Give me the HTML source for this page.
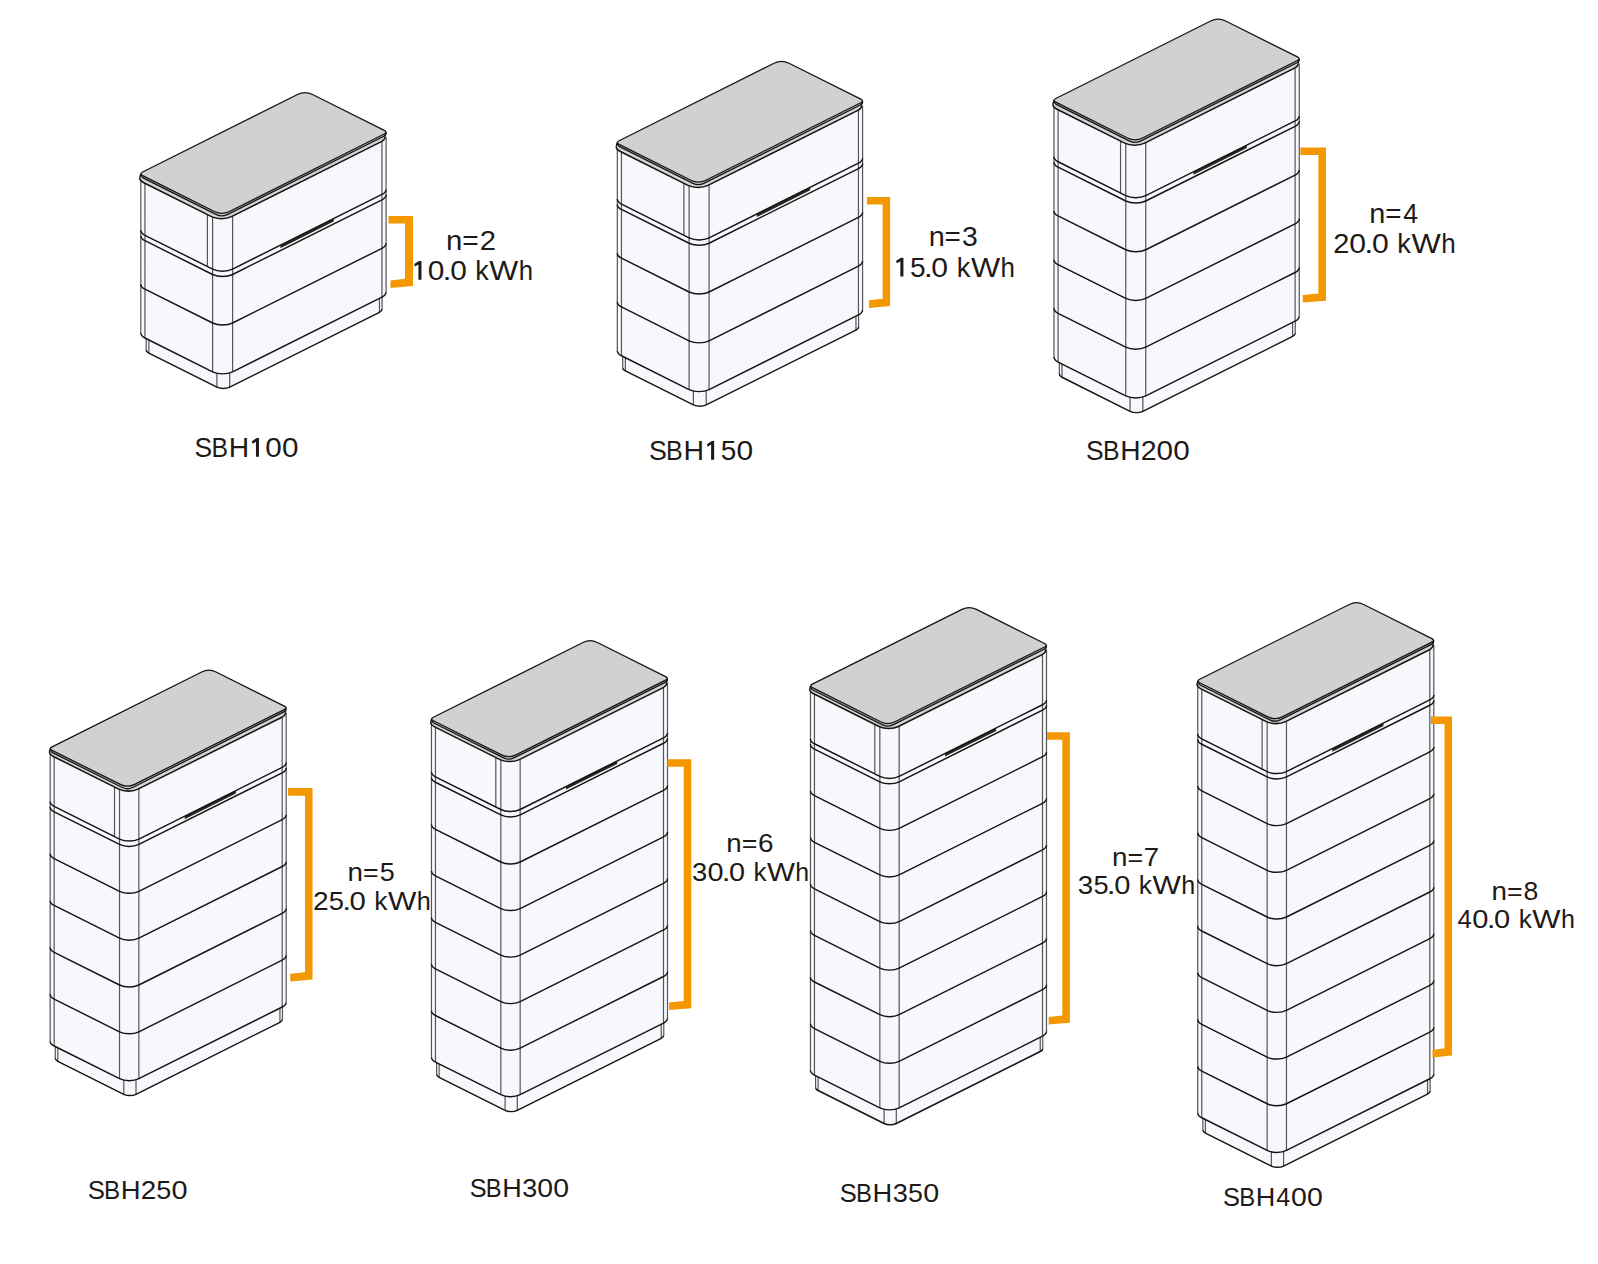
<!DOCTYPE html>
<html><head><meta charset="utf-8"><title>SBH battery stacks</title>
<style>
html,body{margin:0;padding:0;background:#fff;}
body{width:1598px;height:1264px;overflow:hidden;}
svg{display:block;}
text{font-family:"Liberation Sans",sans-serif;}
</style></head><body>
<svg width="1598" height="1264" viewBox="0 0 1598 1264">
<rect width="1598" height="1264" fill="#fff"/>
<g transform="translate(0.7 0)">
<path d="M145.5 349.98 C145.5 351.18 146.45 352.33 148.15 353.18 L216.2 387.2 C219.73 388.97 225.47 388.97 229 387.2 L378.75 312.33 C380.45 311.48 381.4 310.33 381.4 309.12 L381.4 292.12 C381.4 293.33 380.45 294.48 378.75 295.33 L229 370.2 C225.47 371.97 219.73 371.97 216.2 370.2 L148.15 336.18 C146.45 335.33 145.5 334.18 145.5 332.98 Z" fill="#f7f8fb"/>
<path d="M145.5 349.98V332.98 M381.4 309.12V292.12 M148.15 353.18V336.18 M216.2 387.2V370.2 M229 387.2V370.2 M378.75 312.33V295.33" fill="none" stroke="#55555a" stroke-width="1.2"/>
<path d="M145.5 349.98 C145.5 351.18 146.45 352.33 148.15 353.18 L216.2 387.2 C219.73 388.97 225.47 388.97 229 387.2 L378.75 312.33 C380.45 311.48 381.4 310.33 381.4 309.12" fill="none" stroke="#141414" stroke-width="1.45"/>
</g>
<path d="M140.81 332.98 C140.81 334.85 142.3 336.65 144.95 337.98 L212.6 371.8 C218.12 374.56 227.08 374.56 232.6 371.8 L381.95 297.12 C384.6 295.8 386.09 294 386.09 292.12 L386.09 136.93 C386.09 138.8 384.6 140.6 381.95 141.93 L232.6 216.6 C227.08 219.36 218.12 219.36 212.6 216.6 L144.95 182.78 C142.3 181.45 140.81 179.65 140.81 177.78 Z" fill="#f7f8fb"/>
<path d="M140.81 332.98V177.78 M386.09 292.12V136.93 M144.95 337.98V182.78 M212.6 371.8V216.6 M232.6 371.8V216.6 M381.95 297.12V141.93 M207.4 266.5V214" fill="none" stroke="#55555a" stroke-width="1.2"/>
<path d="M280.35 248.23 L333.69 221.55 L333.69 218.55 L280.35 245.23 Z" fill="#2a2624"/>
<path d="M140.81 332.98 C140.81 334.85 142.3 336.65 144.95 337.98 L212.6 371.8 C218.12 374.56 227.08 374.56 232.6 371.8 L381.95 297.12 C384.6 295.8 386.09 294 386.09 292.12 M140.81 284.18 C140.81 286.05 142.3 287.85 144.95 289.18 L212.6 323 C218.12 325.76 227.08 325.76 232.6 323 L381.95 248.32 C384.6 247 386.09 245.2 386.09 243.32 M140.81 235.68 C140.81 237.55 142.3 239.35 144.95 240.68 L212.6 274.5 C218.12 277.26 227.08 277.26 232.6 274.5 L381.95 199.82 C384.6 198.5 386.09 196.7 386.09 194.82 M140.81 230.28 C140.81 232.15 142.3 233.95 144.95 235.28 L212.6 269.1 C218.12 271.86 227.08 271.86 232.6 269.1 L381.95 194.43 C384.6 193.1 386.09 191.3 386.09 189.43" fill="none" stroke="#141414" stroke-width="1.45" stroke-linejoin="round"/>
<g transform="translate(-1.1 0)"><path d="M140.81 177.78 C140.81 179.65 142.3 181.45 144.95 182.78 L212.6 216.6 C218.12 219.36 227.08 219.36 232.6 216.6 L381.95 141.93 C384.6 140.6 386.09 138.8 386.09 136.93 L386.09 132.57 C386.09 134.45 384.6 136.25 381.95 137.57 L232.6 212.25 C227.08 215.01 218.12 215.01 212.6 212.25 L144.95 178.43 C142.3 177.1 140.81 175.3 140.81 173.43 Z" fill="#d9d3d2"/></g>
<g transform="translate(-1.1 0)"><path d="M140.81 177.78 C140.81 179.65 142.3 181.45 144.95 182.78 L212.6 216.6 C218.12 219.36 227.08 219.36 232.6 216.6 L381.95 141.93 C384.6 140.6 386.09 138.8 386.09 136.93" fill="none" stroke="#141414" stroke-width="1.55"/></g>
<path d="M140.83 173.79 L139.71 177.78 M386.07 132.21 L384.99 136.93" fill="none" stroke="#141414" stroke-width="1.3"/>
<path d="M142.63 176.59 L215.5 213.02 Q221.88 216.21 228.25 213.02 L384.27 135.01" fill="none" stroke="#c6c4c4" stroke-width="2.0"/>
<path d="M140.65 174.44 Q140.83 175.84 142.63 177.64 L216.48 214.56 Q221.88 217.26 227.28 214.56 L384.27 136.06 Q386.07 134.26 386.25 132.86" fill="none" stroke="#141414" stroke-width="1.3"/>
<path d="M214.38 211.46 Q221.88 215.21 229.38 211.46 L384.27 134.01 Q387.87 132.21 384.27 130.41 L312.52 94.54 Q305.02 90.79 297.52 94.54 L142.63 171.99 Q139.03 173.79 142.63 175.59 Z" fill="#d1d1d1" stroke="#141414" stroke-width="1.3" stroke-linejoin="round"/>
<g transform="translate(0.7 0)">
<path d="M622 367.73 C622 368.93 622.95 370.08 624.65 370.93 L692.7 404.95 C696.23 406.72 701.97 406.72 705.5 404.95 L855.25 330.08 C856.95 329.23 857.9 328.08 857.9 326.88 L857.9 309.88 C857.9 311.08 856.95 312.23 855.25 313.08 L705.5 387.95 C701.97 389.72 696.23 389.72 692.7 387.95 L624.65 353.93 C622.95 353.08 622 351.93 622 350.73 Z" fill="#f7f8fb"/>
<path d="M622 367.73V350.73 M857.9 326.88V309.88 M624.65 370.93V353.93 M692.7 404.95V387.95 M705.5 404.95V387.95 M855.25 330.08V313.08" fill="none" stroke="#55555a" stroke-width="1.2"/>
<path d="M622 367.73 C622 368.93 622.95 370.08 624.65 370.93 L692.7 404.95 C696.23 406.72 701.97 406.72 705.5 404.95 L855.25 330.08 C856.95 329.23 857.9 328.08 857.9 326.88" fill="none" stroke="#141414" stroke-width="1.45"/>
</g>
<path d="M617.31 350.73 C617.31 352.6 618.8 354.4 621.45 355.73 L689.1 389.55 C694.62 392.31 703.58 392.31 709.1 389.55 L858.45 314.88 C861.1 313.55 862.59 311.75 862.59 309.88 L862.59 105.67 C862.59 107.55 861.1 109.35 858.45 110.67 L709.1 185.35 C703.58 188.11 694.62 188.11 689.1 185.35 L621.45 151.53 C618.8 150.2 617.31 148.4 617.31 146.53 Z" fill="#f7f8fb"/>
<path d="M617.31 350.73V146.53 M862.59 309.88V105.67 M621.45 355.73V151.53 M689.1 389.55V185.35 M709.1 389.55V185.35 M858.45 314.88V110.67 M683.9 235.25V182.75" fill="none" stroke="#55555a" stroke-width="1.2"/>
<path d="M756.85 216.98 L810.19 190.3 L810.19 187.3 L756.85 213.98 Z" fill="#2a2624"/>
<path d="M617.31 350.73 C617.31 352.6 618.8 354.4 621.45 355.73 L689.1 389.55 C694.62 392.31 703.58 392.31 709.1 389.55 L858.45 314.88 C861.1 313.55 862.59 311.75 862.59 309.88 M617.31 301.96 C617.31 303.83 618.8 305.63 621.45 306.96 L689.1 340.78 C694.62 343.54 703.58 343.54 709.1 340.78 L858.45 266.11 C861.1 264.78 862.59 262.98 862.59 261.11 M617.31 253.19 C617.31 255.06 618.8 256.86 621.45 258.19 L689.1 292.01 C694.62 294.77 703.58 294.77 709.1 292.01 L858.45 217.33 C861.1 216.01 862.59 214.21 862.59 212.33 M617.31 204.43 C617.31 206.3 618.8 208.1 621.45 209.43 L689.1 243.25 C694.62 246.01 703.58 246.01 709.1 243.25 L858.45 168.57 C861.1 167.25 862.59 165.45 862.59 163.57 M617.31 199.03 C617.31 200.9 618.8 202.7 621.45 204.03 L689.1 237.85 C694.62 240.61 703.58 240.61 709.1 237.85 L858.45 163.17 C861.1 161.85 862.59 160.05 862.59 158.17" fill="none" stroke="#141414" stroke-width="1.45" stroke-linejoin="round"/>
<g transform="translate(-1.1 0)"><path d="M617.31 146.53 C617.31 148.4 618.8 150.2 621.45 151.53 L689.1 185.35 C694.62 188.11 703.58 188.11 709.1 185.35 L858.45 110.67 C861.1 109.35 862.59 107.55 862.59 105.67 L862.59 101.32 C862.59 103.2 861.1 105 858.45 106.32 L709.1 181 C703.58 183.76 694.62 183.76 689.1 181 L621.45 147.18 C618.8 145.85 617.31 144.05 617.31 142.18 Z" fill="#d9d3d2"/></g>
<g transform="translate(-1.1 0)"><path d="M617.31 146.53 C617.31 148.4 618.8 150.2 621.45 151.53 L689.1 185.35 C694.62 188.11 703.58 188.11 709.1 185.35 L858.45 110.67 C861.1 109.35 862.59 107.55 862.59 105.67" fill="none" stroke="#141414" stroke-width="1.55"/></g>
<path d="M617.33 142.54 L616.21 146.53 M862.57 100.96 L861.49 105.67" fill="none" stroke="#141414" stroke-width="1.3"/>
<path d="M619.13 145.34 L692 181.77 Q698.38 184.96 704.75 181.77 L860.77 103.76" fill="none" stroke="#c6c4c4" stroke-width="2.0"/>
<path d="M617.15 143.19 Q617.33 144.59 619.13 146.39 L692.98 183.31 Q698.38 186.01 703.78 183.31 L860.77 104.81 Q862.57 103.01 862.75 101.61" fill="none" stroke="#141414" stroke-width="1.3"/>
<path d="M690.88 180.21 Q698.38 183.96 705.88 180.21 L860.77 102.76 Q864.37 100.96 860.77 99.16 L789.02 63.29 Q781.52 59.54 774.02 63.29 L619.13 140.74 Q615.53 142.54 619.13 144.34 Z" fill="#d1d1d1" stroke="#141414" stroke-width="1.3" stroke-linejoin="round"/>
<g transform="translate(0.7 0)">
<path d="M1058.65 374.07 C1058.65 375.28 1059.6 376.43 1061.3 377.27 L1129.35 411.3 C1132.88 413.07 1138.62 413.07 1142.15 411.3 L1291.9 336.42 C1293.6 335.58 1294.55 334.43 1294.55 333.23 L1294.55 316.23 C1294.55 317.43 1293.6 318.58 1291.9 319.42 L1142.15 394.3 C1138.62 396.07 1132.88 396.07 1129.35 394.3 L1061.3 360.27 C1059.6 359.43 1058.65 358.28 1058.65 357.07 Z" fill="#f7f8fb"/>
<path d="M1058.65 374.07V357.07 M1294.55 333.23V316.23 M1061.3 377.27V360.27 M1129.35 411.3V394.3 M1142.15 411.3V394.3 M1291.9 336.42V319.42" fill="none" stroke="#55555a" stroke-width="1.2"/>
<path d="M1058.65 374.07 C1058.65 375.28 1059.6 376.43 1061.3 377.27 L1129.35 411.3 C1132.88 413.07 1138.62 413.07 1142.15 411.3 L1291.9 336.42 C1293.6 335.58 1294.55 334.43 1294.55 333.23" fill="none" stroke="#141414" stroke-width="1.45"/>
</g>
<path d="M1053.96 357.07 C1053.96 358.95 1055.45 360.75 1058.1 362.07 L1125.75 395.9 C1131.27 398.66 1140.23 398.66 1145.75 395.9 L1295.1 321.22 C1297.75 319.9 1299.24 318.1 1299.24 316.22 L1299.24 63.42 C1299.24 65.3 1297.75 67.1 1295.1 68.42 L1145.75 143.1 C1140.23 145.86 1131.27 145.86 1125.75 143.1 L1058.1 109.27 C1055.45 107.95 1053.96 106.15 1053.96 104.27 Z" fill="#f7f8fb"/>
<path d="M1053.96 357.07V104.27 M1299.24 316.22V63.42 M1058.1 362.07V109.27 M1125.75 395.9V143.1 M1145.75 395.9V143.1 M1295.1 321.22V68.42 M1120.55 193V140.5" fill="none" stroke="#55555a" stroke-width="1.2"/>
<path d="M1193.5 174.73 L1246.84 148.05 L1246.84 145.05 L1193.5 171.73 Z" fill="#2a2624"/>
<path d="M1053.96 357.07 C1053.96 358.95 1055.45 360.75 1058.1 362.07 L1125.75 395.9 C1131.27 398.66 1140.23 398.66 1145.75 395.9 L1295.1 321.22 C1297.75 319.9 1299.24 318.1 1299.24 316.22 M1053.96 308.36 C1053.96 310.23 1055.45 312.03 1058.1 313.36 L1125.75 347.18 C1131.27 349.94 1140.23 349.94 1145.75 347.18 L1295.1 272.5 C1297.75 271.18 1299.24 269.38 1299.24 267.5 M1053.96 259.63 C1053.96 261.51 1055.45 263.31 1058.1 264.63 L1125.75 298.46 C1131.27 301.22 1140.23 301.22 1145.75 298.46 L1295.1 223.78 C1297.75 222.46 1299.24 220.66 1299.24 218.78 M1053.96 210.91 C1053.96 212.79 1055.45 214.59 1058.1 215.91 L1125.75 249.74 C1131.27 252.5 1140.23 252.5 1145.75 249.74 L1295.1 175.06 C1297.75 173.74 1299.24 171.94 1299.24 170.06 M1053.96 162.17 C1053.96 164.05 1055.45 165.85 1058.1 167.17 L1125.75 201 C1131.27 203.76 1140.23 203.76 1145.75 201 L1295.1 126.32 C1297.75 125 1299.24 123.2 1299.24 121.32 M1053.96 156.77 C1053.96 158.65 1055.45 160.45 1058.1 161.77 L1125.75 195.6 C1131.27 198.36 1140.23 198.36 1145.75 195.6 L1295.1 120.92 C1297.75 119.6 1299.24 117.8 1299.24 115.92" fill="none" stroke="#141414" stroke-width="1.45" stroke-linejoin="round"/>
<g transform="translate(-1.1 0)"><path d="M1053.96 104.27 C1053.96 106.15 1055.45 107.95 1058.1 109.27 L1125.75 143.1 C1131.27 145.86 1140.23 145.86 1145.75 143.1 L1295.1 68.42 C1297.75 67.1 1299.24 65.3 1299.24 63.42 L1299.24 59.07 C1299.24 60.95 1297.75 62.75 1295.1 64.07 L1145.75 138.75 C1140.23 141.51 1131.27 141.51 1125.75 138.75 L1058.1 104.93 C1055.45 103.6 1053.96 101.8 1053.96 99.93 Z" fill="#d9d3d2"/></g>
<g transform="translate(-1.1 0)"><path d="M1053.96 104.27 C1053.96 106.15 1055.45 107.95 1058.1 109.27 L1125.75 143.1 C1131.27 145.86 1140.23 145.86 1145.75 143.1 L1295.1 68.42 C1297.75 67.1 1299.24 65.3 1299.24 63.42" fill="none" stroke="#141414" stroke-width="1.55"/></g>
<path d="M1053.98 100.28 L1052.86 104.27 M1299.22 58.72 L1298.14 63.42" fill="none" stroke="#141414" stroke-width="1.3"/>
<path d="M1055.78 103.08 L1128.65 139.52 Q1135.03 142.71 1141.4 139.52 L1297.42 61.52" fill="none" stroke="#c6c4c4" stroke-width="2.0"/>
<path d="M1053.8 100.93 Q1053.98 102.33 1055.78 104.13 L1129.63 141.06 Q1135.03 143.76 1140.43 141.06 L1297.42 62.57 Q1299.22 60.77 1299.4 59.37" fill="none" stroke="#141414" stroke-width="1.3"/>
<path d="M1127.53 137.96 Q1135.03 141.71 1142.53 137.96 L1297.42 60.52 Q1301.02 58.72 1297.42 56.92 L1225.67 21.04 Q1218.17 17.29 1210.67 21.04 L1055.78 98.48 Q1052.18 100.28 1055.78 102.08 Z" fill="#d1d1d1" stroke="#141414" stroke-width="1.3" stroke-linejoin="round"/>
<g transform="translate(0.7 0)">
<path d="M54.59 1058.25 C54.59 1059.39 55.5 1060.49 57.12 1061.3 L123.1 1094.29 C126.47 1095.97 131.93 1095.97 135.3 1094.29 L279.24 1022.32 C280.86 1021.51 281.77 1020.41 281.77 1019.27 L281.77 1002.17 C281.77 1003.31 280.86 1004.41 279.24 1005.22 L135.3 1077.19 C131.93 1078.87 126.47 1078.87 123.1 1077.19 L57.12 1044.2 C55.5 1043.39 54.59 1042.29 54.59 1041.15 Z" fill="#f7f8fb"/>
<path d="M54.59 1058.25V1041.15 M281.77 1019.27V1002.17 M57.12 1061.3V1044.2 M123.1 1094.29V1077.19 M135.3 1094.29V1077.19 M279.24 1022.32V1005.22" fill="none" stroke="#55555a" stroke-width="1.2"/>
<path d="M54.59 1058.25 C54.59 1059.39 55.5 1060.49 57.12 1061.3 L123.1 1094.29 C126.47 1095.97 131.93 1095.97 135.3 1094.29 L279.24 1022.32 C280.86 1021.51 281.77 1020.41 281.77 1019.27" fill="none" stroke="#141414" stroke-width="1.45"/>
</g>
<path d="M50.16 1041.15 C50.16 1042.96 51.6 1044.7 54.16 1045.98 L119.54 1078.67 C124.88 1081.34 133.52 1081.34 138.86 1078.67 L282.2 1007 C284.76 1005.72 286.2 1003.98 286.2 1002.17 L286.2 712.64 C286.2 714.45 284.76 716.19 282.2 717.47 L138.86 789.14 C133.52 791.81 124.88 791.81 119.54 789.14 L54.16 756.45 C51.6 755.17 50.16 753.43 50.16 751.62 Z" fill="#f7f8fb"/>
<path d="M50.16 1041.15V751.62 M286.2 1002.17V712.64 M54.16 1045.98V756.45 M119.54 1078.67V789.14 M138.86 1078.67V789.14 M282.2 1007V717.47 M114.5 836.55V786.62" fill="none" stroke="#55555a" stroke-width="1.2"/>
<path d="M184.67 819.17 L235.9 793.55 L235.9 790.55 L184.67 816.17 Z" fill="#2a2624"/>
<path d="M50.16 1041.15 C50.16 1042.96 51.6 1044.7 54.16 1045.98 L119.54 1078.67 C124.88 1081.34 133.52 1081.34 138.86 1078.67 L282.2 1007 C284.76 1005.72 286.2 1003.98 286.2 1002.17 M50.16 994.31 C50.16 996.12 51.6 997.86 54.16 999.14 L119.54 1031.83 C124.88 1034.5 133.52 1034.5 138.86 1031.83 L282.2 960.16 C284.76 958.88 286.2 957.14 286.2 955.33 M50.16 947.47 C50.16 949.28 51.6 951.02 54.16 952.3 L119.54 984.99 C124.88 987.66 133.52 987.66 138.86 984.99 L282.2 913.32 C284.76 912.04 286.2 910.3 286.2 908.49 M50.16 900.63 C50.16 902.44 51.6 904.18 54.16 905.46 L119.54 938.15 C124.88 940.82 133.52 940.82 138.86 938.15 L282.2 866.48 C284.76 865.2 286.2 863.46 286.2 861.65 M50.16 853.79 C50.16 855.6 51.6 857.34 54.16 858.62 L119.54 891.31 C124.88 893.98 133.52 893.98 138.86 891.31 L282.2 819.64 C284.76 818.36 286.2 816.62 286.2 814.81 M50.16 806.95 C50.16 808.76 51.6 810.5 54.16 811.78 L119.54 844.47 C124.88 847.14 133.52 847.14 138.86 844.47 L282.2 772.8 C284.76 771.52 286.2 769.78 286.2 767.97 M50.16 801.55 C50.16 803.36 51.6 805.1 54.16 806.38 L119.54 839.07 C124.88 841.74 133.52 841.74 138.86 839.07 L282.2 767.4 C284.76 766.12 286.2 764.38 286.2 762.57" fill="none" stroke="#141414" stroke-width="1.45" stroke-linejoin="round"/>
<g transform="translate(-0.8 0)"><path d="M50.16 751.62 C50.16 753.43 51.6 755.17 54.16 756.45 L119.54 789.14 C124.88 791.81 133.52 791.81 138.86 789.14 L282.2 717.47 C284.76 716.19 286.2 714.45 286.2 712.64 L286.2 708.72 C286.2 710.53 284.76 712.27 282.2 713.55 L138.86 785.22 C133.52 787.89 124.88 787.89 119.54 785.22 L54.16 752.53 C51.6 751.25 50.16 749.51 50.16 747.7 Z" fill="#d9d3d2"/></g>
<g transform="translate(-0.8 0)"><path d="M50.16 751.62 C50.16 753.43 51.6 755.17 54.16 756.45 L119.54 789.14 C124.88 791.81 133.52 791.81 138.86 789.14 L282.2 717.47 C284.76 716.19 286.2 714.45 286.2 712.64" fill="none" stroke="#141414" stroke-width="1.55"/></g>
<path d="M50.33 748.56 L49.36 751.62 M286.03 707.86 L285.4 712.64" fill="none" stroke="#141414" stroke-width="1.3"/>
<path d="M52.08 751.31 L121.36 785.95 Q127.48 789.01 133.6 785.95 L284.28 710.61" fill="none" stroke="#c6c4c4" stroke-width="2.0"/>
<path d="M50.16 749.21 Q50.33 750.61 52.08 752.36 L122.3 787.47 Q127.48 790.06 132.66 787.47 L284.28 711.66 Q286.03 709.91 286.2 708.51" fill="none" stroke="#141414" stroke-width="1.3"/>
<path d="M120.28 784.41 Q127.48 788.01 134.68 784.41 L284.28 709.61 Q287.78 707.86 284.28 706.11 L216.08 672.01 Q208.88 668.41 201.68 672.01 L52.08 746.81 Q48.58 748.56 52.08 750.31 Z" fill="#d1d1d1" stroke="#141414" stroke-width="1.3" stroke-linejoin="round"/>
<g transform="translate(0.7 0)">
<path d="M435.89 1074.3 C435.89 1075.44 436.8 1076.54 438.42 1077.35 L504.4 1110.34 C507.77 1112.02 513.23 1112.02 516.6 1110.34 L660.54 1038.37 C662.16 1037.56 663.07 1036.46 663.07 1035.32 L663.07 1018.22 C663.07 1019.36 662.16 1020.46 660.54 1021.27 L516.6 1093.24 C513.23 1094.92 507.77 1094.92 504.4 1093.24 L438.42 1060.25 C436.8 1059.44 435.89 1058.34 435.89 1057.2 Z" fill="#f7f8fb"/>
<path d="M435.89 1074.3V1057.2 M663.07 1035.32V1018.22 M438.42 1077.35V1060.25 M504.4 1110.34V1093.24 M516.6 1110.34V1093.24 M660.54 1038.37V1021.27" fill="none" stroke="#55555a" stroke-width="1.2"/>
<path d="M435.89 1074.3 C435.89 1075.44 436.8 1076.54 438.42 1077.35 L504.4 1110.34 C507.77 1112.02 513.23 1112.02 516.6 1110.34 L660.54 1038.37 C662.16 1037.56 663.07 1036.46 663.07 1035.32" fill="none" stroke="#141414" stroke-width="1.45"/>
</g>
<path d="M431.46 1057.2 C431.46 1059.01 432.9 1060.75 435.46 1062.03 L500.84 1094.72 C506.18 1097.39 514.82 1097.39 520.16 1094.72 L663.5 1023.05 C666.06 1021.77 667.5 1020.03 667.5 1018.22 L667.5 683.09 C667.5 684.9 666.06 686.64 663.5 687.92 L520.16 759.59 C514.82 762.26 506.18 762.26 500.84 759.59 L435.46 726.9 C432.9 725.62 431.46 723.88 431.46 722.07 Z" fill="#f7f8fb"/>
<path d="M431.46 1057.2V722.07 M667.5 1018.22V683.09 M435.46 1062.03V726.9 M500.84 1094.72V759.59 M520.16 1094.72V759.59 M663.5 1023.05V687.92 M495.8 807V757.07" fill="none" stroke="#55555a" stroke-width="1.2"/>
<path d="M565.97 789.62 L617.2 764 L617.2 761 L565.97 786.62 Z" fill="#2a2624"/>
<path d="M431.46 1057.2 C431.46 1059.01 432.9 1060.75 435.46 1062.03 L500.84 1094.72 C506.18 1097.39 514.82 1097.39 520.16 1094.72 L663.5 1023.05 C666.06 1021.77 667.5 1020.03 667.5 1018.22 M431.46 1010.66 C431.46 1012.47 432.9 1014.21 435.46 1015.49 L500.84 1048.18 C506.18 1050.85 514.82 1050.85 520.16 1048.18 L663.5 976.51 C666.06 975.23 667.5 973.49 667.5 971.68 M431.46 964.12 C431.46 965.93 432.9 967.67 435.46 968.95 L500.84 1001.64 C506.18 1004.31 514.82 1004.31 520.16 1001.64 L663.5 929.97 C666.06 928.69 667.5 926.95 667.5 925.14 M431.46 917.58 C431.46 919.39 432.9 921.13 435.46 922.41 L500.84 955.1 C506.18 957.77 514.82 957.77 520.16 955.1 L663.5 883.43 C666.06 882.15 667.5 880.41 667.5 878.6 M431.46 871.04 C431.46 872.85 432.9 874.59 435.46 875.87 L500.84 908.56 C506.18 911.23 514.82 911.23 520.16 908.56 L663.5 836.89 C666.06 835.61 667.5 833.87 667.5 832.06 M431.46 824.5 C431.46 826.31 432.9 828.05 435.46 829.33 L500.84 862.02 C506.18 864.69 514.82 864.69 520.16 862.02 L663.5 790.35 C666.06 789.07 667.5 787.33 667.5 785.52 M431.46 777.4 C431.46 779.21 432.9 780.95 435.46 782.23 L500.84 814.92 C506.18 817.59 514.82 817.59 520.16 814.92 L663.5 743.25 C666.06 741.97 667.5 740.23 667.5 738.42 M431.46 772 C431.46 773.81 432.9 775.55 435.46 776.83 L500.84 809.52 C506.18 812.19 514.82 812.19 520.16 809.52 L663.5 737.85 C666.06 736.57 667.5 734.83 667.5 733.02" fill="none" stroke="#141414" stroke-width="1.45" stroke-linejoin="round"/>
<g transform="translate(-0.8 0)"><path d="M431.46 722.07 C431.46 723.88 432.9 725.62 435.46 726.9 L500.84 759.59 C506.18 762.26 514.82 762.26 520.16 759.59 L663.5 687.92 C666.06 686.64 667.5 684.9 667.5 683.09 L667.5 679.17 C667.5 680.98 666.06 682.72 663.5 684 L520.16 755.67 C514.82 758.34 506.18 758.34 500.84 755.67 L435.46 722.98 C432.9 721.7 431.46 719.96 431.46 718.15 Z" fill="#d9d3d2"/></g>
<g transform="translate(-0.8 0)"><path d="M431.46 722.07 C431.46 723.88 432.9 725.62 435.46 726.9 L500.84 759.59 C506.18 762.26 514.82 762.26 520.16 759.59 L663.5 687.92 C666.06 686.64 667.5 684.9 667.5 683.09" fill="none" stroke="#141414" stroke-width="1.55"/></g>
<path d="M431.63 719.01 L430.66 722.07 M667.33 678.31 L666.7 683.09" fill="none" stroke="#141414" stroke-width="1.3"/>
<path d="M433.38 721.76 L502.66 756.4 Q508.78 759.46 514.9 756.4 L665.58 681.06" fill="none" stroke="#c6c4c4" stroke-width="2.0"/>
<path d="M431.45 719.66 Q431.63 721.06 433.38 722.81 L503.6 757.92 Q508.78 760.51 513.96 757.92 L665.58 682.11 Q667.33 680.36 667.5 678.96" fill="none" stroke="#141414" stroke-width="1.3"/>
<path d="M501.58 754.86 Q508.78 758.46 515.98 754.86 L665.58 680.06 Q669.08 678.31 665.58 676.56 L597.38 642.46 Q590.18 638.86 582.98 642.46 L433.38 717.26 Q429.88 719.01 433.38 720.76 Z" fill="#d1d1d1" stroke="#141414" stroke-width="1.3" stroke-linejoin="round"/>
<g transform="translate(0.7 0)">
<path d="M814.89 1087.45 C814.89 1088.59 815.8 1089.69 817.42 1090.5 L883.4 1123.49 C886.77 1125.17 892.23 1125.17 895.6 1123.49 L1039.54 1051.52 C1041.16 1050.71 1042.07 1049.61 1042.07 1048.47 L1042.07 1031.37 C1042.07 1032.51 1041.16 1033.61 1039.54 1034.42 L895.6 1106.39 C892.23 1108.07 886.77 1108.07 883.4 1106.39 L817.42 1073.4 C815.8 1072.59 814.89 1071.49 814.89 1070.35 Z" fill="#f7f8fb"/>
<path d="M814.89 1087.45V1070.35 M1042.07 1048.47V1031.37 M817.42 1090.5V1073.4 M883.4 1123.49V1106.39 M895.6 1123.49V1106.39 M1039.54 1051.52V1034.42" fill="none" stroke="#55555a" stroke-width="1.2"/>
<path d="M814.89 1087.45 C814.89 1088.59 815.8 1089.69 817.42 1090.5 L883.4 1123.49 C886.77 1125.17 892.23 1125.17 895.6 1123.49 L1039.54 1051.52 C1041.16 1050.71 1042.07 1049.61 1042.07 1048.47" fill="none" stroke="#141414" stroke-width="1.45"/>
</g>
<path d="M810.46 1070.35 C810.46 1072.16 811.9 1073.9 814.46 1075.18 L879.84 1107.87 C885.18 1110.54 893.82 1110.54 899.16 1107.87 L1042.5 1036.2 C1045.06 1034.92 1046.5 1033.18 1046.5 1031.37 L1046.5 649.99 C1046.5 651.8 1045.06 653.54 1042.5 654.82 L899.16 726.49 C893.82 729.16 885.18 729.16 879.84 726.49 L814.46 693.8 C811.9 692.52 810.46 690.78 810.46 688.97 Z" fill="#f7f8fb"/>
<path d="M810.46 1070.35V688.97 M1046.5 1031.37V649.99 M814.46 1075.18V693.8 M879.84 1107.87V726.49 M899.16 1107.87V726.49 M1042.5 1036.2V654.82 M874.8 773.9V723.97" fill="none" stroke="#55555a" stroke-width="1.2"/>
<path d="M944.97 756.52 L996.2 730.9 L996.2 727.9 L944.97 753.52 Z" fill="#2a2624"/>
<path d="M810.46 1070.35 C810.46 1072.16 811.9 1073.9 814.46 1075.18 L879.84 1107.87 C885.18 1110.54 893.82 1110.54 899.16 1107.87 L1042.5 1036.2 C1045.06 1034.92 1046.5 1033.18 1046.5 1031.37 M810.46 1023.77 C810.46 1025.58 811.9 1027.32 814.46 1028.6 L879.84 1061.29 C885.18 1063.96 893.82 1063.96 899.16 1061.29 L1042.5 989.62 C1045.06 988.34 1046.5 986.6 1046.5 984.79 M810.46 977.19 C810.46 979 811.9 980.74 814.46 982.02 L879.84 1014.71 C885.18 1017.38 893.82 1017.38 899.16 1014.71 L1042.5 943.04 C1045.06 941.76 1046.5 940.02 1046.5 938.21 M810.46 930.61 C810.46 932.42 811.9 934.16 814.46 935.44 L879.84 968.13 C885.18 970.8 893.82 970.8 899.16 968.13 L1042.5 896.46 C1045.06 895.18 1046.5 893.44 1046.5 891.63 M810.46 884.03 C810.46 885.84 811.9 887.58 814.46 888.86 L879.84 921.55 C885.18 924.22 893.82 924.22 899.16 921.55 L1042.5 849.88 C1045.06 848.6 1046.5 846.86 1046.5 845.05 M810.46 837.45 C810.46 839.26 811.9 841 814.46 842.28 L879.84 874.97 C885.18 877.64 893.82 877.64 899.16 874.97 L1042.5 803.3 C1045.06 802.02 1046.5 800.28 1046.5 798.47 M810.46 790.87 C810.46 792.68 811.9 794.42 814.46 795.7 L879.84 828.39 C885.18 831.06 893.82 831.06 899.16 828.39 L1042.5 756.72 C1045.06 755.44 1046.5 753.7 1046.5 751.89 M810.46 744.3 C810.46 746.11 811.9 747.85 814.46 749.13 L879.84 781.82 C885.18 784.49 893.82 784.49 899.16 781.82 L1042.5 710.15 C1045.06 708.87 1046.5 707.13 1046.5 705.32 M810.46 738.9 C810.46 740.71 811.9 742.45 814.46 743.73 L879.84 776.42 C885.18 779.09 893.82 779.09 899.16 776.42 L1042.5 704.75 C1045.06 703.47 1046.5 701.73 1046.5 699.92" fill="none" stroke="#141414" stroke-width="1.45" stroke-linejoin="round"/>
<g transform="translate(-0.8 0)"><path d="M810.46 688.97 C810.46 690.78 811.9 692.52 814.46 693.8 L879.84 726.49 C885.18 729.16 893.82 729.16 899.16 726.49 L1042.5 654.82 C1045.06 653.54 1046.5 651.8 1046.5 649.99 L1046.5 646.07 C1046.5 647.88 1045.06 649.62 1042.5 650.9 L899.16 722.57 C893.82 725.24 885.18 725.24 879.84 722.57 L814.46 689.88 C811.9 688.6 810.46 686.86 810.46 685.05 Z" fill="#d9d3d2"/></g>
<g transform="translate(-0.8 0)"><path d="M810.46 688.97 C810.46 690.78 811.9 692.52 814.46 693.8 L879.84 726.49 C885.18 729.16 893.82 729.16 899.16 726.49 L1042.5 654.82 C1045.06 653.54 1046.5 651.8 1046.5 649.99" fill="none" stroke="#141414" stroke-width="1.55"/></g>
<path d="M810.63 685.91 L809.66 688.97 M1046.33 645.21 L1045.7 649.99" fill="none" stroke="#141414" stroke-width="1.3"/>
<path d="M812.38 688.66 L881.66 723.3 Q887.78 726.36 893.9 723.3 L1044.58 647.96" fill="none" stroke="#c6c4c4" stroke-width="2.0"/>
<path d="M810.46 686.56 Q810.63 687.96 812.38 689.71 L882.6 724.82 Q887.78 727.41 892.96 724.82 L1044.58 649.01 Q1046.33 647.26 1046.5 645.86" fill="none" stroke="#141414" stroke-width="1.3"/>
<path d="M880.58 721.76 Q887.78 725.36 894.98 721.76 L1044.58 646.96 Q1048.08 645.21 1044.58 643.46 L976.38 609.36 Q969.18 605.76 961.98 609.36 L812.38 684.16 Q808.88 685.91 812.38 687.66 Z" fill="#d1d1d1" stroke="#141414" stroke-width="1.3" stroke-linejoin="round"/>
<g transform="translate(0.7 0)">
<path d="M1202.19 1130.02 C1202.19 1131.16 1203.1 1132.26 1204.72 1133.07 L1270.7 1166.06 C1274.07 1167.74 1279.53 1167.74 1282.9 1166.06 L1426.84 1094.09 C1428.46 1093.28 1429.37 1092.18 1429.37 1091.04 L1429.37 1073.94 C1429.37 1075.08 1428.46 1076.18 1426.84 1076.99 L1282.9 1148.96 C1279.53 1150.64 1274.07 1150.64 1270.7 1148.96 L1204.72 1115.97 C1203.1 1115.16 1202.19 1114.06 1202.19 1112.92 Z" fill="#f7f8fb"/>
<path d="M1202.19 1130.02V1112.92 M1429.37 1091.04V1073.94 M1204.72 1133.07V1115.97 M1270.7 1166.06V1148.96 M1282.9 1166.06V1148.96 M1426.84 1094.09V1076.99" fill="none" stroke="#55555a" stroke-width="1.2"/>
<path d="M1202.19 1130.02 C1202.19 1131.16 1203.1 1132.26 1204.72 1133.07 L1270.7 1166.06 C1274.07 1167.74 1279.53 1167.74 1282.9 1166.06 L1426.84 1094.09 C1428.46 1093.28 1429.37 1092.18 1429.37 1091.04" fill="none" stroke="#141414" stroke-width="1.45"/>
</g>
<path d="M1197.76 1112.92 C1197.76 1114.73 1199.2 1116.47 1201.76 1117.75 L1267.14 1150.44 C1272.48 1153.11 1281.12 1153.11 1286.46 1150.44 L1429.8 1078.77 C1432.36 1077.49 1433.8 1075.75 1433.8 1073.94 L1433.8 645.11 C1433.8 646.92 1432.36 648.66 1429.8 649.94 L1286.46 721.61 C1281.12 724.28 1272.48 724.28 1267.14 721.61 L1201.76 688.92 C1199.2 687.64 1197.76 685.9 1197.76 684.09 Z" fill="#f7f8fb"/>
<path d="M1197.76 1112.92V684.09 M1433.8 1073.94V645.11 M1201.76 1117.75V688.92 M1267.14 1150.44V721.61 M1286.46 1150.44V721.61 M1429.8 1078.77V649.94 M1262.1 769.02V719.09" fill="none" stroke="#55555a" stroke-width="1.2"/>
<path d="M1332.27 751.64 L1383.5 726.02 L1383.5 723.02 L1332.27 748.64 Z" fill="#2a2624"/>
<path d="M1197.76 1112.92 C1197.76 1114.73 1199.2 1116.47 1201.76 1117.75 L1267.14 1150.44 C1272.48 1153.11 1281.12 1153.11 1286.46 1150.44 L1429.8 1078.77 C1432.36 1077.49 1433.8 1075.75 1433.8 1073.94 M1197.76 1066.23 C1197.76 1068.04 1199.2 1069.78 1201.76 1071.06 L1267.14 1103.75 C1272.48 1106.42 1281.12 1106.42 1286.46 1103.75 L1429.8 1032.08 C1432.36 1030.8 1433.8 1029.06 1433.8 1027.25 M1197.76 1019.54 C1197.76 1021.35 1199.2 1023.09 1201.76 1024.37 L1267.14 1057.06 C1272.48 1059.73 1281.12 1059.73 1286.46 1057.06 L1429.8 985.39 C1432.36 984.11 1433.8 982.37 1433.8 980.56 M1197.76 972.85 C1197.76 974.66 1199.2 976.4 1201.76 977.68 L1267.14 1010.37 C1272.48 1013.04 1281.12 1013.04 1286.46 1010.37 L1429.8 938.7 C1432.36 937.42 1433.8 935.68 1433.8 933.87 M1197.76 926.16 C1197.76 927.97 1199.2 929.71 1201.76 930.99 L1267.14 963.68 C1272.48 966.35 1281.12 966.35 1286.46 963.68 L1429.8 892.01 C1432.36 890.73 1433.8 888.99 1433.8 887.18 M1197.76 879.47 C1197.76 881.28 1199.2 883.02 1201.76 884.3 L1267.14 916.99 C1272.48 919.66 1281.12 919.66 1286.46 916.99 L1429.8 845.32 C1432.36 844.04 1433.8 842.3 1433.8 840.49 M1197.76 832.78 C1197.76 834.59 1199.2 836.33 1201.76 837.61 L1267.14 870.3 C1272.48 872.97 1281.12 872.97 1286.46 870.3 L1429.8 798.63 C1432.36 797.35 1433.8 795.61 1433.8 793.8 M1197.76 786.09 C1197.76 787.9 1199.2 789.64 1201.76 790.92 L1267.14 823.61 C1272.48 826.28 1281.12 826.28 1286.46 823.61 L1429.8 751.94 C1432.36 750.66 1433.8 748.92 1433.8 747.11 M1197.76 739.42 C1197.76 741.23 1199.2 742.97 1201.76 744.25 L1267.14 776.94 C1272.48 779.61 1281.12 779.61 1286.46 776.94 L1429.8 705.27 C1432.36 703.99 1433.8 702.25 1433.8 700.44 M1197.76 734.02 C1197.76 735.83 1199.2 737.57 1201.76 738.85 L1267.14 771.54 C1272.48 774.21 1281.12 774.21 1286.46 771.54 L1429.8 699.87 C1432.36 698.59 1433.8 696.85 1433.8 695.04" fill="none" stroke="#141414" stroke-width="1.45" stroke-linejoin="round"/>
<g transform="translate(-0.8 0)"><path d="M1197.76 684.09 C1197.76 685.9 1199.2 687.64 1201.76 688.92 L1267.14 721.61 C1272.48 724.28 1281.12 724.28 1286.46 721.61 L1429.8 649.94 C1432.36 648.66 1433.8 646.92 1433.8 645.11 L1433.8 641.19 C1433.8 643 1432.36 644.74 1429.8 646.02 L1286.46 717.69 C1281.12 720.36 1272.48 720.36 1267.14 717.69 L1201.76 685 C1199.2 683.72 1197.76 681.98 1197.76 680.17 Z" fill="#d9d3d2"/></g>
<g transform="translate(-0.8 0)"><path d="M1197.76 684.09 C1197.76 685.9 1199.2 687.64 1201.76 688.92 L1267.14 721.61 C1272.48 724.28 1281.12 724.28 1286.46 721.61 L1429.8 649.94 C1432.36 648.66 1433.8 646.92 1433.8 645.11" fill="none" stroke="#141414" stroke-width="1.55"/></g>
<path d="M1197.93 681.03 L1196.96 684.09 M1433.63 640.33 L1433 645.11" fill="none" stroke="#141414" stroke-width="1.3"/>
<path d="M1199.68 683.78 L1268.96 718.42 Q1275.08 721.48 1281.2 718.42 L1431.88 643.08" fill="none" stroke="#c6c4c4" stroke-width="2.0"/>
<path d="M1197.76 681.68 Q1197.93 683.08 1199.68 684.83 L1269.9 719.94 Q1275.08 722.53 1280.26 719.94 L1431.88 644.13 Q1433.63 642.38 1433.8 640.98" fill="none" stroke="#141414" stroke-width="1.3"/>
<path d="M1267.88 716.88 Q1275.08 720.48 1282.28 716.88 L1431.88 642.08 Q1435.38 640.33 1431.88 638.58 L1363.68 604.48 Q1356.48 600.88 1349.28 604.48 L1199.68 679.28 Q1196.18 681.03 1199.68 682.78 Z" fill="#d1d1d1" stroke="#141414" stroke-width="1.3" stroke-linejoin="round"/>
<path d="M388.5 216 L413 216 L413 286.1 L390.5 288 L390.5 280.4 L405 278.8 L405 223.6 L388.5 223.6 Z" fill="#f39800"/>
<path d="M866.9 197 L890.1 197 L890.1 306 L869 307.9 L869 300.3 L882.6 298.7 L882.6 204.6 L866.9 204.6 Z" fill="#f39800"/>
<path d="M1300.4 147.5 L1326 147.5 L1326 300.7 L1302.7 302.6 L1302.7 295 L1318.4 293.4 L1318.4 155.1 L1300.4 155.1 Z" fill="#f39800"/>
<path d="M288.1 788.1 L312.5 788.1 L312.5 979.5 L290.3 981.4 L290.3 973.8 L305 972.2 L305 795.7 L288.1 795.7 Z" fill="#f39800"/>
<path d="M667.3 759.2 L691.3 759.2 L691.3 1008.2 L669.1 1010.1 L669.1 1002.5 L683.7 1000.9 L683.7 766.8 L667.3 766.8 Z" fill="#f39800"/>
<path d="M1046.9 732.2 L1069.9 732.2 L1069.9 1022.7 L1048.7 1024.6 L1048.7 1017 L1062.3 1015.4 L1062.3 739.8 L1046.9 739.8 Z" fill="#f39800"/>
<path d="M1431 716.4 L1452 716.4 L1452 1055.6 L1432.5 1057.5 L1432.5 1049.9 L1444.5 1048.3 L1444.5 724 L1431 724 Z" fill="#f39800"/>
<g font-family="Liberation Sans, sans-serif" fill="#1e1a18">
<text transform="translate(194.61 456.85) scale(0.9797 1)" font-size="27">S</text><text transform="translate(211.44 456.85) scale(0.9188 1)" font-size="27">B</text><text transform="translate(228.72 456.85) scale(1.0460 1)" font-size="27">H</text><path d="M255.95 456.85 L258.98 456.85 L258.98 438.05 L256.63 438.05 L252.14 440.95 L251.85 441.65 L252.39 443.4 L253.02 443.45 L255.95 441.65 Z"/><text transform="translate(265.32 456.85) scale(1.0984 1)" font-size="27">0</text><text transform="translate(282.05 456.85) scale(1.0984 1)" font-size="27">0</text>
<text transform="translate(649.1 459.8) scale(0.9903 1)" font-size="27">S</text><text transform="translate(666.11 459.8) scale(0.9288 1)" font-size="27">B</text><text transform="translate(683.58 459.8) scale(1.0573 1)" font-size="27">H</text><path d="M711.1 459.8 L714.16 459.8 L714.16 441 L711.79 441 L707.25 443.9 L706.96 444.6 L707.5 446.35 L708.14 446.4 L711.1 444.6 Z"/><text transform="translate(720.65 459.8) scale(1.0381 1)" font-size="27">5</text><text transform="translate(736.49 459.8) scale(1.1103 1)" font-size="27">0</text>
<text transform="translate(1086.11 460.2) scale(0.9797 1)" font-size="27">S</text><text transform="translate(1102.94 460.2) scale(0.9188 1)" font-size="27">B</text><text transform="translate(1120.22 460.2) scale(1.0460 1)" font-size="27">H</text><text transform="translate(1140.63 460.2) scale(1.0559 1)" font-size="27">2</text><text transform="translate(1156.42 460.2) scale(1.0983 1)" font-size="27">0</text><text transform="translate(1173.15 460.2) scale(1.0983 1)" font-size="27">0</text>
<text transform="translate(87.64 1198.7) scale(0.9833 1)" font-size="26.2">S</text><text transform="translate(104.03 1198.7) scale(0.9222 1)" font-size="26.2">B</text><text transform="translate(120.86 1198.7) scale(1.0498 1)" font-size="26.2">H</text><text transform="translate(140.74 1198.7) scale(1.0598 1)" font-size="26.2">2</text><text transform="translate(156.19 1198.7) scale(1.0307 1)" font-size="26.2">5</text><text transform="translate(171.45 1198.7) scale(1.1024 1)" font-size="26.2">0</text>
<text transform="translate(469.66 1197.3) scale(0.9659 1)" font-size="26.2">S</text><text transform="translate(485.76 1197.3) scale(0.9058 1)" font-size="26.2">B</text><text transform="translate(502.3 1197.3) scale(1.0313 1)" font-size="26.2">H</text><text transform="translate(522.18 1197.3) scale(1.0277 1)" font-size="26.2">3</text><text transform="translate(537.31 1197.3) scale(1.0829 1)" font-size="26.2">0</text><text transform="translate(553.32 1197.3) scale(1.0829 1)" font-size="26.2">0</text>
<text transform="translate(839.65 1202) scale(0.9754 1)" font-size="26.2">S</text><text transform="translate(855.91 1202) scale(0.9148 1)" font-size="26.2">B</text><text transform="translate(872.61 1202) scale(1.0414 1)" font-size="26.2">H</text><text transform="translate(892.69 1202) scale(1.0378 1)" font-size="26.2">3</text><text transform="translate(908.04 1202) scale(1.0224 1)" font-size="26.2">5</text><text transform="translate(923.17 1202) scale(1.0935 1)" font-size="26.2">0</text>
<text transform="translate(1223.06 1205.9) scale(0.9698 1)" font-size="26.2">S</text><text transform="translate(1239.22 1205.9) scale(0.9095 1)" font-size="26.2">B</text><text transform="translate(1255.83 1205.9) scale(1.0355 1)" font-size="26.2">H</text><text transform="translate(1276.23 1205.9) scale(0.9634 1)" font-size="26.2">4</text><text transform="translate(1290.88 1205.9) scale(1.0873 1)" font-size="26.2">0</text><text transform="translate(1306.96 1205.9) scale(1.0873 1)" font-size="26.2">0</text>
<text transform="translate(446.12 249.9) scale(1.0859 1)" font-size="27">n</text><text transform="translate(462.32 249.9) scale(1.0468 1)" font-size="27">=</text><text transform="translate(479.64 249.9) scale(1.0827 1)" font-size="27">2</text>
<path d="M418.43 279.7 L421.47 279.7 L421.47 260.9 L419.11 260.9 L414.59 263.8 L414.3 264.5 L414.84 266.25 L415.48 266.3 L418.43 264.5 Z"/><text transform="translate(427.85 279.7) scale(1.1049 1)" font-size="27">0</text><text transform="translate(442.57 279.7) scale(1.2039 1)" font-size="27">.</text><text transform="translate(450.16 279.7) scale(1.1049 1)" font-size="27">0</text><text x="475.34" y="279.7" font-size="27">k</text><text transform="translate(489.36 279.7) scale(1.1364 1)" font-size="27">W</text><text transform="translate(518.69 279.7) scale(0.9531 1)" font-size="27">h</text>
<text transform="translate(928.65 246.1) scale(1.0695 1)" font-size="27">n</text><text transform="translate(944.61 246.1) scale(1.0309 1)" font-size="27">=</text><text transform="translate(962.03 246.1) scale(1.0526 1)" font-size="27">3</text>
<path d="M900.36 276.5 L903.43 276.5 L903.43 257.7 L901.06 257.7 L896.5 260.6 L896.2 261.3 L896.75 263.05 L897.39 263.1 L900.36 261.3 Z"/><text transform="translate(909.94 276.5) scale(1.0419 1)" font-size="27">5</text><text transform="translate(923.71 276.5) scale(1.2143 1)" font-size="27">.</text><text transform="translate(931.37 276.5) scale(1.1144 1)" font-size="27">0</text><text transform="translate(956.76 276.5) scale(1.0067 1)" font-size="27">k</text><text transform="translate(970.9 276.5) scale(1.1462 1)" font-size="27">W</text><text transform="translate(1000.48 276.5) scale(0.9613 1)" font-size="27">h</text>
<text transform="translate(1369.35 222.9) scale(1.0695 1)" font-size="27">n</text><text transform="translate(1385.31 222.9) scale(1.0309 1)" font-size="27">=</text><text transform="translate(1403.2 222.9) scale(0.9828 1)" font-size="27">4</text>
<text transform="translate(1333.25 253) scale(1.0749 1)" font-size="27">2</text><text transform="translate(1349.32 253) scale(1.1181 1)" font-size="27">0</text><text transform="translate(1364.22 253) scale(1.2183 1)" font-size="27">.</text><text transform="translate(1371.9 253) scale(1.1181 1)" font-size="27">0</text><text transform="translate(1397.37 253) scale(1.0100 1)" font-size="27">k</text><text transform="translate(1411.56 253) scale(1.1500 1)" font-size="27">W</text><text transform="translate(1441.24 253) scale(0.9645 1)" font-size="27">h</text>
<text transform="translate(347.62 880.6) scale(1.0612 1)" font-size="26.2">n</text><text transform="translate(362.99 880.6) scale(1.0230 1)" font-size="26.2">=</text><text transform="translate(379.72 880.6) scale(1.0290 1)" font-size="26.2">5</text>
<text transform="translate(313.09 909.8) scale(1.0741 1)" font-size="26.2">2</text><text transform="translate(328.75 909.8) scale(1.0446 1)" font-size="26.2">5</text><text transform="translate(342.14 909.8) scale(1.2174 1)" font-size="26.2">.</text><text transform="translate(349.59 909.8) scale(1.1172 1)" font-size="26.2">0</text><text transform="translate(374.29 909.8) scale(1.0092 1)" font-size="26.2">k</text><text transform="translate(388.05 909.8) scale(1.1491 1)" font-size="26.2">W</text><text transform="translate(416.83 909.8) scale(0.9637 1)" font-size="26.2">h</text>
<text transform="translate(726.32 851.7) scale(1.0613 1)" font-size="26.2">n</text><text transform="translate(741.69 851.7) scale(1.0231 1)" font-size="26.2">=</text><text transform="translate(758.1 851.7) scale(1.0649 1)" font-size="26.2">6</text>
<text transform="translate(692.07 880.6) scale(1.0450 1)" font-size="26.2">3</text><text transform="translate(707.46 880.6) scale(1.1012 1)" font-size="26.2">0</text><text transform="translate(721.69 880.6) scale(1.1999 1)" font-size="26.2">.</text><text transform="translate(729.04 880.6) scale(1.1012 1)" font-size="26.2">0</text><text transform="translate(753.38 880.6) scale(0.9947 1)" font-size="26.2">k</text><text transform="translate(766.94 880.6) scale(1.1326 1)" font-size="26.2">W</text><text transform="translate(795.31 880.6) scale(0.9499 1)" font-size="26.2">h</text>
<text transform="translate(1112.02 865.6) scale(1.0609 1)" font-size="26.2">n</text><text transform="translate(1127.38 865.6) scale(1.0227 1)" font-size="26.2">=</text><text transform="translate(1143.73 865.6) scale(1.0556 1)" font-size="26.2">7</text>
<text transform="translate(1077.76 894.3) scale(1.0576 1)" font-size="26.2">3</text><text transform="translate(1093.4 894.3) scale(1.0419 1)" font-size="26.2">5</text><text transform="translate(1106.76 894.3) scale(1.2143 1)" font-size="26.2">.</text><text transform="translate(1114.19 894.3) scale(1.1144 1)" font-size="26.2">0</text><text transform="translate(1138.83 894.3) scale(1.0067 1)" font-size="26.2">k</text><text transform="translate(1152.55 894.3) scale(1.1462 1)" font-size="26.2">W</text><text transform="translate(1181.26 894.3) scale(0.9613 1)" font-size="26.2">h</text>
<text transform="translate(1491.52 899.6) scale(1.0609 1)" font-size="26.2">n</text><text transform="translate(1506.88 899.6) scale(1.0227 1)" font-size="26.2">=</text><text transform="translate(1523.55 899.6) scale(1.0163 1)" font-size="26.2">8</text>
<text transform="translate(1457.42 928.3) scale(0.9833 1)" font-size="26.2">4</text><text transform="translate(1472.37 928.3) scale(1.1098 1)" font-size="26.2">0</text><text transform="translate(1486.72 928.3) scale(1.2093 1)" font-size="26.2">.</text><text transform="translate(1494.12 928.3) scale(1.1098 1)" font-size="26.2">0</text><text x="1518.66" y="928.3" font-size="26.2">k</text><text transform="translate(1532.32 928.3) scale(1.1415 1)" font-size="26.2">W</text><text transform="translate(1560.91 928.3) scale(0.9573 1)" font-size="26.2">h</text>
</g>
</svg>
</body></html>
